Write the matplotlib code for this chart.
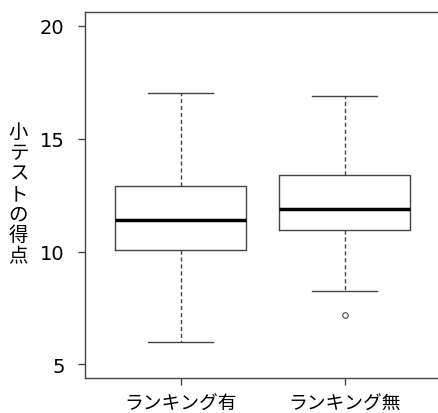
"""Boxplot of quiz scores with and without ranking (R-style look)."""

import matplotlib

matplotlib.use("Agg")
import matplotlib.pyplot as plt

plt.rcParams["font.family"] = ["Noto Sans CJK JP", "DejaVu Sans"]

# data
groups = ["ランキング有", "ランキング無"]
whisker_low = [6.0, 8.25]
q1 = [10.07, 10.94]
medians = [11.38, 11.87]
q3 = [12.92, 13.38]
whisker_high = [17.0, 16.9]
outliers = [[], [7.19]]
y_ticks = [5, 10, 15, 20]
y_label = "小テストの得点"

stats = [
    {"whislo": lo, "q1": a, "med": m, "q3": b, "whishi": hi, "fliers": f, "label": g}
    for lo, a, m, b, hi, f, g in zip(whisker_low, q1, medians, q3, whisker_high, outliers, groups)
]

fig = plt.figure(figsize=(4.38, 4.14), dpi=100)
ax = fig.add_axes([0.195, 0.0845, 0.809, 0.884])

line = "#444444"
ax.bxp(
    stats,
    positions=[1, 2],
    widths=0.8,
    boxprops=dict(color=line, linewidth=1.0),
    whiskerprops=dict(color=line, linewidth=1.0, linestyle=(0, (3, 2))),
    capprops=dict(color=line, linewidth=1.0),
    medianprops=dict(color="black", linewidth=2.5),
    flierprops=dict(marker="o", markersize=4, markerfacecolor="white",
                    markeredgecolor=line, markeredgewidth=0.8),
    capwidths=0.4,
)

ax.set_xlim(0.42, 2.58)
ax.set_ylim(4.4, 20.6)
ax.set_yticks(y_ticks)
ax.set_yticklabels([str(t) for t in y_ticks], family="DejaVu Sans", fontsize=14)
ax.set_xticks([1, 2])
ax.set_xticklabels(groups, fontsize=13.5)

ax.tick_params(axis="y", length=5, width=1, color=line, pad=10)
ax.tick_params(axis="x", length=5, width=1, color=line, pad=6)
for s in ax.spines.values():
    s.set_color(line)
    s.set_linewidth(1.0)

fig.text(0.042, 0.53, "\n".join(y_label), ha="center", va="center",
         fontsize=14, linespacing=0.98)

fig.savefig("out.png", dpi=100)
